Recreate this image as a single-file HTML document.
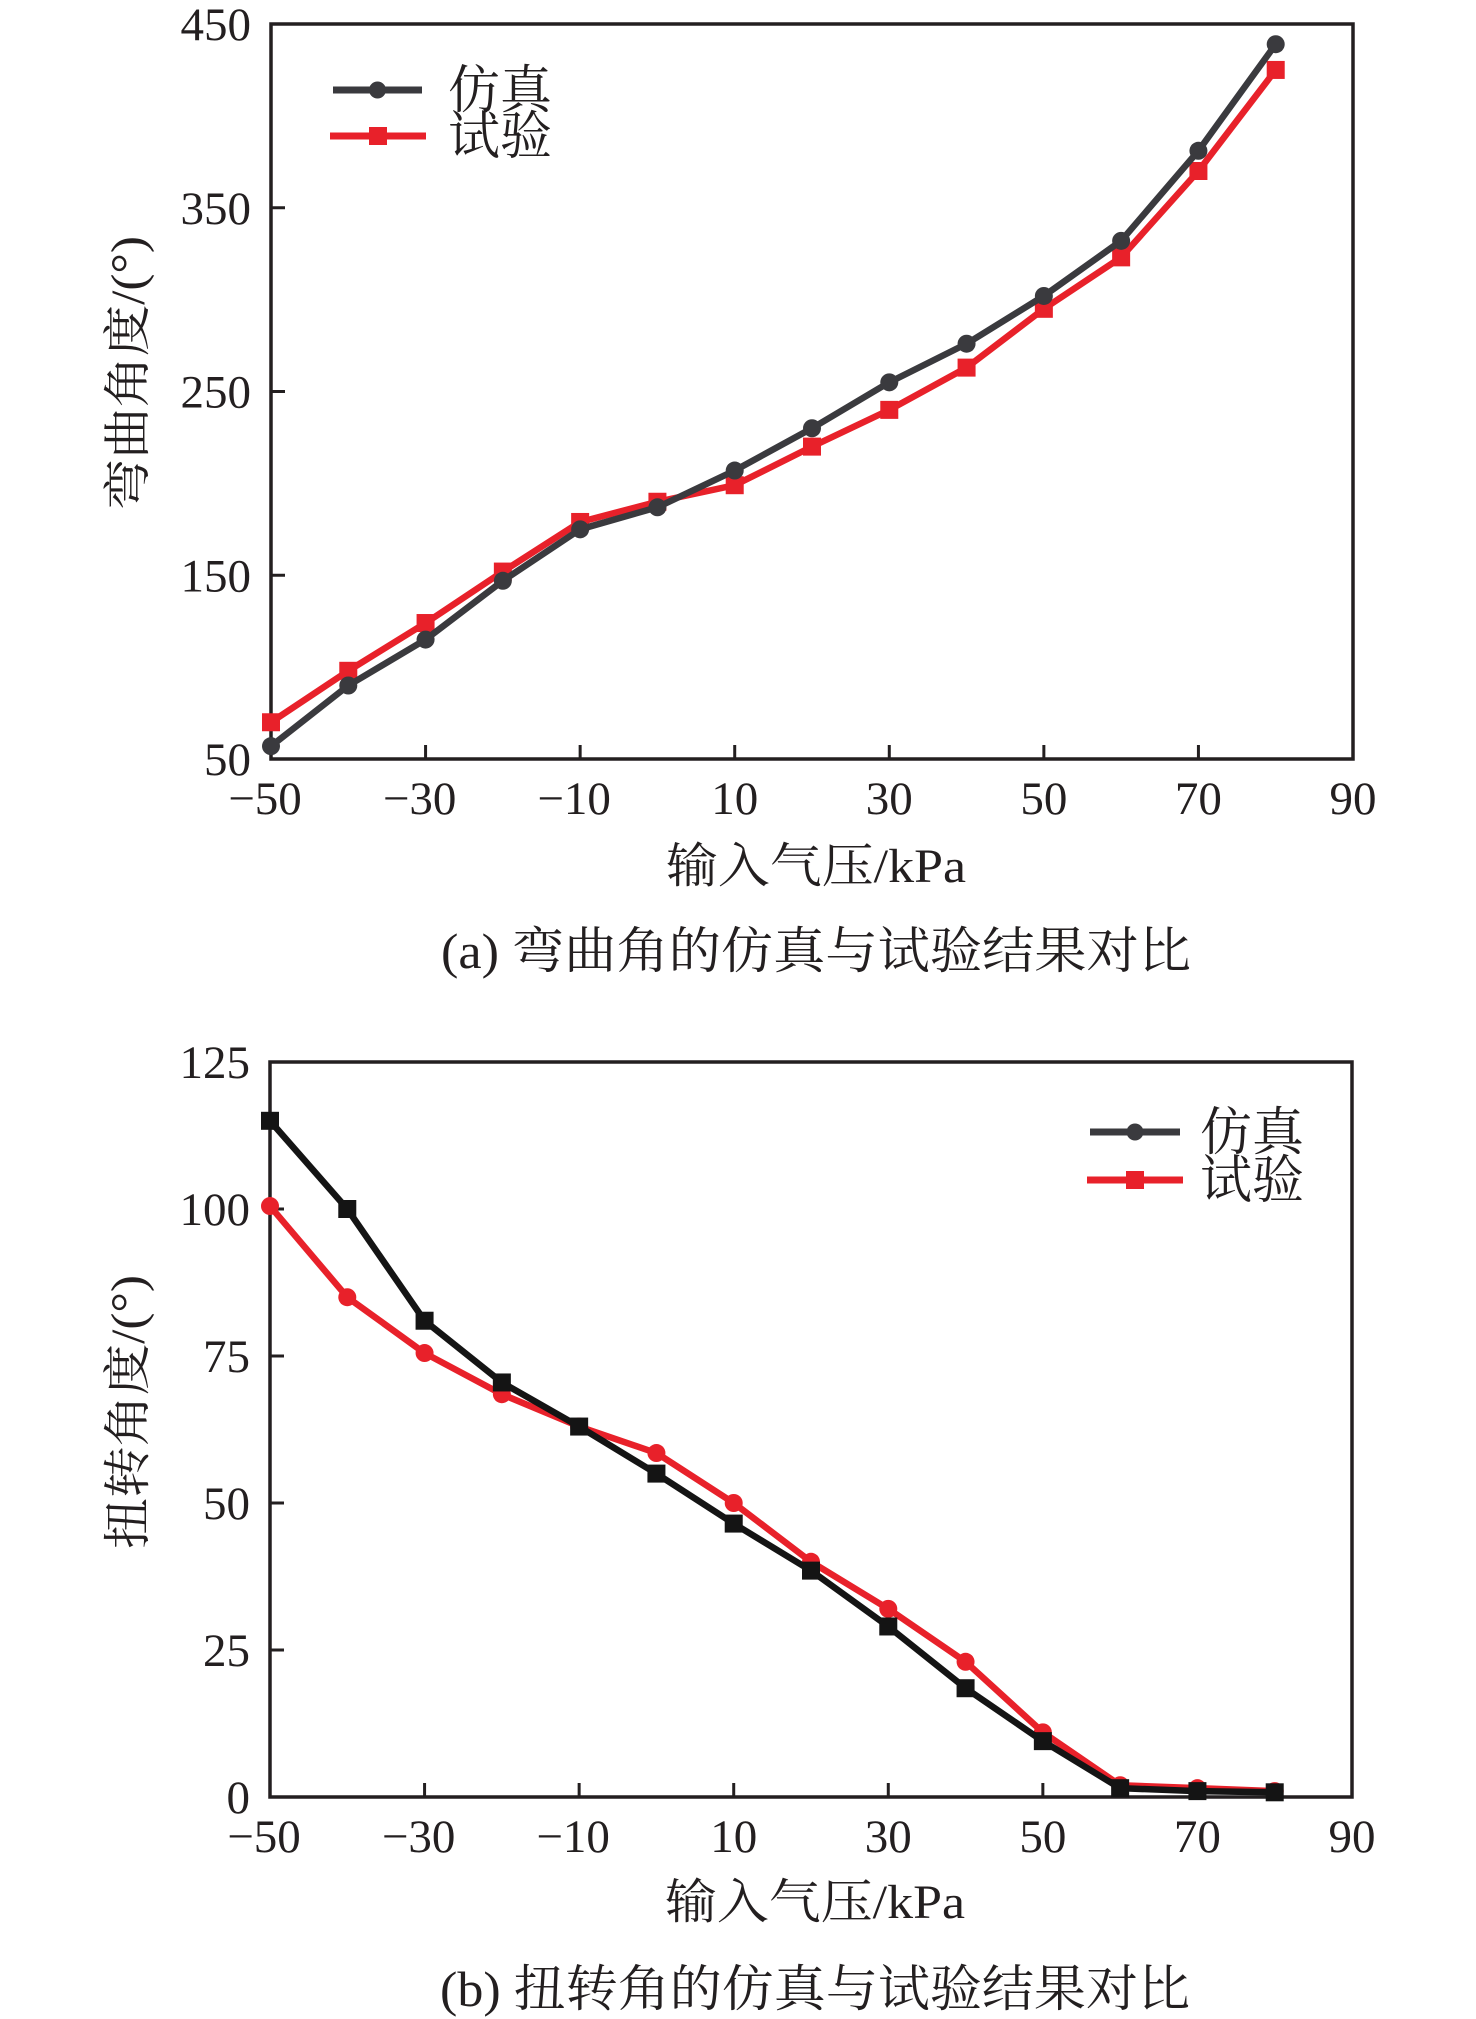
<!DOCTYPE html>
<html><head><meta charset="utf-8"><style>
html,body{margin:0;padding:0;background:#fff;}
svg{display:block;}
text{font-family:"Liberation Serif","Noto Serif CJK SC","Noto Sans CJK SC",serif;fill:#231f20;}
</style></head><body>
<svg id="root" width="1476" height="2019" viewBox="0 0 1476 2019" xmlns="http://www.w3.org/2000/svg">
<g id="chartA"></g>
<g id="chartB"></g>
</svg>
<script>
const xCategories = [-50,-40,-30,-20,-10,0,10,20,30,40,50,60,70,80];
const xTickLabels = [-50,-30,-10,10,30,50,70,90];
const bendSim = [57,90,115,147,175,187,207,230,255,276,302,332,381,439];
const bendExp = [70,98,124,152,179,190,199,220,240,263,295,323,370,425];
const bendYTicks = [50,150,250,350,450];
const twistSim = [115,100,81,70.5,63,55,46.5,38.5,29,18.5,9.5,1.5,1,0.8];
const twistExp = [100.5,85,75.5,68.5,63,58.5,50,40,32,23,11,2,1.5,1];
const twistYTicks = [0,25,50,75,100,125];

const NS = "http://www.w3.org/2000/svg";
function mk(parent, tag, attrs, txt){
  const e = document.createElementNS(NS, tag);
  for (const k in attrs) e.setAttribute(k, attrs[k]);
  if (txt !== undefined) e.textContent = txt;
  parent.appendChild(e);
  return e;
}
function fmt(v){ return v < 0 ? "\u2212" + Math.abs(v) : String(v); }

function drawChart(g, cfg){
  const L=cfg.L,R=cfg.R,T=cfg.T,B=cfg.B;
  const sx = v => L + (v - (-50)) / 140 * (R - L);
  const sy = v => B - (v - cfg.ymin) / (cfg.ymax - cfg.ymin) * (B - T);
  const frame = mk(g,"rect",{x:L,y:T,width:R-L,height:B-T,fill:"none",stroke:"#231f20","stroke-width":3.5});
  
  
  xTickLabels.forEach(v=>{
    const t = mk(g,"line",{x1:sx(v),x2:sx(v),y1:B,y2:B-14,stroke:"#231f20","stroke-width":3});
    
    
    const lb = mk(g,"text",{x:sx(v)-(v<0?6:0),y:cfg.xTickY,"font-size":47,"text-anchor":"middle"},fmt(v));
    
    
  });
  cfg.yTicks.forEach(v=>{
    const t = mk(g,"line",{x1:L,x2:L+14,y1:sy(v),y2:sy(v),stroke:"#231f20","stroke-width":3});
    
    
    const lb = mk(g,"text",{x:L-20,y:sy(v)+16,"font-size":47,"text-anchor":"end"},String(v));
    
    
  });
  const xt = mk(g,"text",{x:(L+R)/2+4,y:cfg.xTitleY,"font-size":48,"text-anchor":"middle",textLength:300,lengthAdjust:"spacingAndGlyphs"},"输入气压/kPa");
  
  
  const yt = mk(g,"text",{x:0,y:0,"font-size":48,"text-anchor":"middle",textLength:274,lengthAdjust:"spacingAndGlyphs",transform:`translate(${cfg.yTitleX},${cfg.yTitleY}) rotate(-90)`},cfg.yTitle);
  
  
  const cap = mk(g,"text",{x:(L+R)/2+4,y:cfg.capY,"font-size":50,"text-anchor":"middle",textLength:750,lengthAdjust:"spacingAndGlyphs"},cfg.caption);
  
  

  cfg.series.forEach(s=>{
    const pts = s.data.map((v,i)=>sx(xCategories[i])+","+sy(v)).join(" ");
    const pl = mk(g,"polyline",{points:pts,fill:"none",stroke:s.color,"stroke-width":6.5,"stroke-linejoin":"round"});
    
    
    s.data.forEach((v,i)=>{
      let m;
      if (s.marker==="circle") m = mk(g,"circle",{cx:sx(xCategories[i]),cy:sy(v),r:9,fill:s.color});
      else m = mk(g,"rect",{x:sx(xCategories[i])-9,y:sy(v)-9,width:18,height:18,fill:s.color});
      
      
    });
  });
  cfg.legend.forEach(e=>{
    const ln = mk(g,"line",{x1:e.x1,x2:e.x2,y1:e.y,y2:e.y,stroke:e.color,"stroke-width":7});
    
    
    const mx=(e.x1+e.x2)/2;
    let m;
    if (e.marker==="circle") m = mk(g,"circle",{cx:mx,cy:e.y,r:8.5,fill:e.color});
    else m = mk(g,"rect",{x:mx-9,y:e.y-9,width:18,height:18,fill:e.color});
    
    
    const lt = mk(g,"text",{x:e.tx,y:e.y+18,"font-size":52},e.label);
    
    
  });
}

drawChart(document.getElementById("chartA"),{
  L:271,R:1353,T:24,B:759,ymin:50,ymax:450,yTicks:bendYTicks,
  xTickY:814,xTitleY:882,yTitleX:144,yTitleY:373,capY:968,
  yTitle:"弯曲角度/(°)",caption:"(a) 弯曲角的仿真与试验结果对比",
  series:[
    {name:"bend-experiment",data:bendExp,color:"#e8212a",marker:"rect"},
    {name:"bend-simulation",data:bendSim,color:"#3a3a3e",marker:"circle"}
  ],
  legend:[
    {x1:333,x2:422,y:90,color:"#3a3a3e",marker:"circle",label:"仿真",tx:448},
    {x1:330,x2:426,y:136,color:"#e8212a",marker:"rect",label:"试验",tx:448}
  ]
});
drawChart(document.getElementById("chartB"),{
  L:270,R:1352,T:1062,B:1797,ymin:0,ymax:125,yTicks:twistYTicks,
  xTickY:1852,xTitleY:1918,yTitleX:144,yTitleY:1412,capY:2006,
  yTitle:"扭转角度/(°)",caption:"(b) 扭转角的仿真与试验结果对比",
  series:[
    {name:"twist-experiment",data:twistExp,color:"#e8212a",marker:"circle"},
    {name:"twist-simulation",data:twistSim,color:"#141414",marker:"rect"}
  ],
  legend:[
    {x1:1090,x2:1180,y:1132,color:"#3a3a3e",marker:"circle",label:"仿真",tx:1200},
    {x1:1087,x2:1183,y:1180,color:"#e8212a",marker:"rect",label:"试验",tx:1200}
  ]
});
</script>
</body></html>
